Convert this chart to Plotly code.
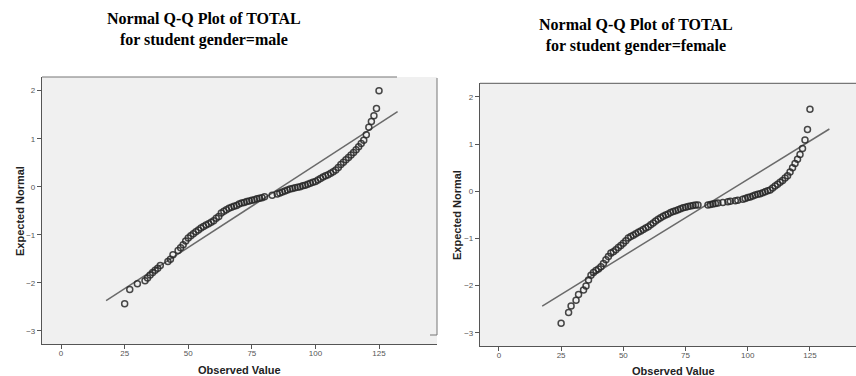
import plotly.graph_objects as go

# ---------------- data ----------------
male_observed = [25, 27, 30, 33, 34, 35, 36, 37, 38, 39, 42, 43, 44, 46, 47, 48, 49, 50,
                 51, 52, 53, 54, 55, 56, 57, 58, 59, 60, 61, 62, 63, 64, 65, 66, 67, 68,
                 69, 70, 71, 72, 73, 74, 75, 76, 77, 78, 79, 80, 83, 85, 86, 87, 88, 89,
                 90, 91, 92, 93, 94, 95, 96, 97, 98, 99, 100, 101, 102, 103, 104, 105,
                 106, 107, 108, 109, 110, 111, 112, 113, 114, 115, 116, 117, 118, 119,
                 120, 121, 122, 123, 124, 125]
male_expected = [-2.44, -2.14, -2.02, -1.96, -1.90, -1.84, -1.79, -1.74, -1.70, -1.64, -1.56,
                 -1.51, -1.42, -1.33, -1.27, -1.21, -1.13, -1.07, -1.02, -0.98, -0.94, -0.90,
                 -0.86, -0.83, -0.80, -0.77, -0.74, -0.71, -0.66, -0.62, -0.55, -0.51, -0.48,
                 -0.45, -0.43, -0.41, -0.39, -0.36, -0.34, -0.33, -0.31, -0.30, -0.28, -0.27,
                 -0.25, -0.24, -0.23, -0.21, -0.18, -0.15, -0.13, -0.11, -0.09, -0.07, -0.05,
                 -0.04, -0.02, -0.01, 0.00, 0.02, 0.03, 0.05, 0.07, 0.09, 0.11, 0.14, 0.17,
                 0.20, 0.23, 0.25, 0.28, 0.31, 0.35, 0.40, 0.46, 0.51, 0.56, 0.61, 0.66,
                 0.71, 0.77, 0.83, 0.90, 0.97, 1.08, 1.24, 1.36, 1.48, 1.63, 2.00]
male_line_x = [17.7, 132.3]
male_line_y = [-2.375, 1.5625]

female_observed = [25, 28, 29, 31, 32, 34, 35, 36, 37, 38, 39, 40, 41, 42, 43, 44, 45, 46,
                   47, 48, 49, 50, 51, 52, 53, 54, 55, 56, 57, 58, 59, 60, 61, 62, 63, 64,
                   65, 66, 67, 68, 69, 70, 71, 72, 73, 74, 75, 76, 77, 78, 79, 80, 84, 85,
                   86, 87, 88, 90, 92, 93, 95, 96, 98, 99, 100, 101, 102, 103, 104, 105,
                   106, 107, 108, 109, 110, 111, 112, 113, 114, 115, 116, 117, 118, 119,
                   120, 121, 122, 123, 124, 125]
female_expected = [-2.80, -2.57, -2.43, -2.31, -2.19, -2.09, -2.01, -1.88, -1.78, -1.72,
                   -1.68, -1.65, -1.60, -1.53, -1.45, -1.38, -1.31, -1.28, -1.24, -1.19,
                   -1.15, -1.10, -1.05, -0.99, -0.96, -0.93, -0.90, -0.87, -0.84, -0.81,
                   -0.78, -0.75, -0.71, -0.67, -0.63, -0.59, -0.56, -0.53, -0.50, -0.48,
                   -0.45, -0.43, -0.41, -0.39, -0.37, -0.35, -0.34, -0.32, -0.31, -0.30,
                   -0.29, -0.29, -0.29, -0.28, -0.27, -0.26, -0.25, -0.24, -0.22, -0.21,
                   -0.20, -0.19, -0.17, -0.15, -0.13, -0.12, -0.10, -0.08, -0.06, -0.05,
                   -0.03, -0.01, 0.01, 0.03, 0.07, 0.11, 0.15, 0.19, 0.23, 0.28, 0.33,
                   0.41, 0.50, 0.59, 0.68, 0.78, 0.91, 1.09, 1.31, 1.74]
female_line_x = [17.4, 132.8]
female_line_y = [-2.434, 1.321]

x_ticks = [0, 25, 50, 75, 100, 125]
y_ticks = [-3, -2, -1, 0, 1, 2]

titles = ["Normal Q-Q Plot of TOTAL<br>for student gender=male",
          "Normal Q-Q Plot of TOTAL<br>for student gender=female"]

# ---------------- figure ----------------
W, H = 856, 376
def px(x):
    return x / W
def py(y):
    return 1 - y / H

fig = go.Figure()

marker_style = dict(symbol="circle-open", size=6, color="rgba(40,40,40,0.85)",
                    line=dict(width=1.5, color="rgba(40,40,40,0.85)"))

fig.add_trace(go.Scatter(x=male_line_x, y=male_line_y, mode="lines",
                         line=dict(color="#6a6a6a", width=1.5),
                         xaxis="x", yaxis="y", showlegend=False, hoverinfo="skip"))
fig.add_trace(go.Scatter(x=male_observed, y=male_expected, mode="markers",
                         marker=marker_style, xaxis="x", yaxis="y", showlegend=False))
fig.add_trace(go.Scatter(x=female_line_x, y=female_line_y, mode="lines",
                         line=dict(color="#6a6a6a", width=1.5),
                         xaxis="x2", yaxis="y2", showlegend=False, hoverinfo="skip"))
fig.add_trace(go.Scatter(x=female_observed, y=female_expected, mode="markers",
                         marker=marker_style, xaxis="x2", yaxis="y2", showlegend=False))

axis_common = dict(showgrid=False, zeroline=False, showline=True, linecolor="#555555",
                   linewidth=1.2, ticks="outside", ticklen=4, tickcolor="#555555",
                   tickfont=dict(family="Liberation Sans, Arial, sans-serif", size=8,
                                 color="#555555"), mirror=False)

fig.update_layout(
    width=W, height=H,
    margin=dict(l=0, r=0, t=0, b=0),
    paper_bgcolor="white",
    plot_bgcolor="#f0f0f0",
    xaxis=dict(domain=[px(42), px(437)], range=[-7.5, 147.8], anchor="y",
               tickvals=x_ticks, ticklabelstandoff=-3, **axis_common),
    yaxis=dict(domain=[py(344), py(77)], range=[-3.277, 2.285], anchor="x",
               tickvals=y_ticks, **axis_common),
    xaxis2=dict(domain=[px(480), 1.0], range=[-7.6, 143.5], anchor="y2",
                tickvals=x_ticks, ticklabelstandoff=-3, **axis_common),
    yaxis2=dict(domain=[py(346), py(83.3)], range=[-3.28, 2.29], anchor="x2",
                tickvals=y_ticks, **axis_common),
)

# borders of plot frames
fig.add_shape(type="line", xref="paper", yref="paper", x0=px(42), x1=px(397),
              y0=py(77), y1=py(77), line=dict(color="#777777", width=1.2))
fig.add_shape(type="line", xref="paper", yref="paper", x0=px(437), x1=px(437),
              y0=py(78), y1=py(335), line=dict(color="#777777", width=1))
fig.add_shape(type="line", xref="paper", yref="paper", x0=px(430), x1=px(437),
              y0=py(335), y1=py(335), line=dict(color="#777777", width=1))
fig.add_shape(type="line", xref="paper", yref="paper", x0=px(480), x1=1.0,
              y0=py(83.3), y1=py(83.3), line=dict(color="#777777", width=1.2))

title_font = dict(family="Liberation Serif, Times New Roman, serif", size=16, color="black")
fig.add_annotation(text="<b>" + titles[0] + "</b>", xref="paper", yref="paper",
                   x=px(204), y=py(30), xanchor="center", yanchor="middle",
                   showarrow=False, font=title_font, align="center")
fig.add_annotation(text="<b>" + titles[1] + "</b>", xref="paper", yref="paper",
                   x=px(636), y=py(35), xanchor="center", yanchor="middle",
                   showarrow=False, font=title_font, align="center")

label_font = dict(family="Liberation Sans, Arial, sans-serif", size=11, color="#222222")
fig.add_annotation(text="<b>Expected Normal</b>", xref="paper", yref="paper",
                   x=px(20), y=py(211), xanchor="center", yanchor="middle",
                   textangle=-90, showarrow=False, font=label_font)
fig.add_annotation(text="<b>Expected Normal</b>", xref="paper", yref="paper",
                   x=px(457), y=py(215), xanchor="center", yanchor="middle",
                   textangle=-90, showarrow=False, font=label_font)
fig.add_annotation(text="<b>Observed Value</b>", xref="paper", yref="paper",
                   x=px(240), y=py(370), xanchor="center", yanchor="middle",
                   showarrow=False, font=label_font)
fig.add_annotation(text="<b>Observed Value</b>", xref="paper", yref="paper",
                   x=px(673), y=py(371), xanchor="center", yanchor="middle",
                   showarrow=False, font=label_font)

fig.write_html("out.html", config={"displayModeBar": False},
               post_script="document.body.style.margin='0';")
